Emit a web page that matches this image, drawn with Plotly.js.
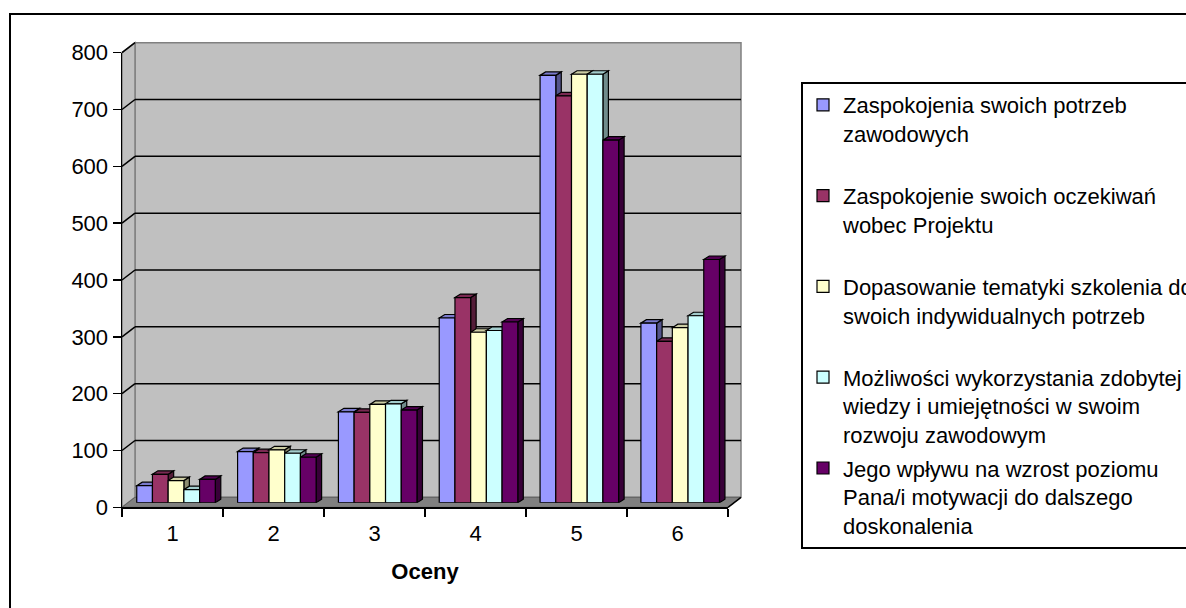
<!DOCTYPE html>
<html><head><meta charset="utf-8">
<script src="https://cdn.plot.ly/plotly-3.0.1.min.js"></script>
<style>
html,body{margin:0;padding:0;overflow:hidden;background:#fff;width:1186px;height:608px;}
#chart{position:absolute;left:0;top:0;width:1250px;height:620px;}
#frame{position:absolute;left:9px;top:13px;width:1400px;height:800px;border:2px solid #000;pointer-events:none;}
</style></head><body>
<div id="chart"></div><div id="frame"></div>
<script>
const categories = ['1', '2', '3', '4', '5', '6'];
const seriesNames = [
  'Zaspokojenia swoich potrzeb<br>zawodowych',
  'Zaspokojenie swoich oczekiwań<br>wobec Projektu',
  'Dopasowanie tematyki szkolenia do<br>swoich indywidualnych potrzeb',
  'Możliwości wykorzystania zdobytej<br>wiedzy i umiejętności w swoim<br>rozwoju zawodowym',
  'Jego wpływu na wzrost poziomu<br>Pana/i motywacji do dalszego<br>doskonalenia'
];
const potrzebyZawodowe = [30, 90, 160, 325, 752, 316];
const oczekiwaniaProjekt = [50, 88, 159, 361, 716, 284];
const dopasowanieTematyki = [39, 93, 173, 300, 754, 308];
const mozliwosciWiedzy = [23, 87, 174, 303, 754, 329];
const wplywMotywacja = [41, 80, 163, 318, 638, 428];
const seriesValues = [potrzebyZawodowe, oczekiwaniaProjekt, dopasowanieTematyki, mozliwosciWiedzy, wplywMotywacja];
const seriesColors = ['#9999FF', '#993366', '#FFFFCC', '#CCFFFF', '#660066'];
const yTicks = [0, 100, 200, 300, 400, 500, 600, 700, 800];

// geometry (pixels)
const W = 1250, H = 620;
const FX0 = 122, FX1 = 728, FY0 = 507.3, FYTOP = 52.7;   // front axes box
const DX = 13, DY = 10;                                   // wall depth
const S = (FY0 - FYTOP) / 800;                            // px per unit
const BARX0 = 125.6, BARX1 = 730.6, BARY0 = 502.7;        // bar front plane
const BDX = 5.5, BDY = 3.5;                               // bar depth
const BARGAP = 0.221;
const px = x => x / W;
const py = y => 1 - y / H;
const yF = v => FY0 - S * v;
const yB = v => FY0 - DY - S * v;

function shade(hex, f) {
  const n = parseInt(hex.slice(1), 16);
  const r = Math.round(((n >> 16) & 255) * f), g = Math.round(((n >> 8) & 255) * f), b = Math.round((n & 255) * f);
  return 'rgb(' + r + ',' + g + ',' + b + ')';
}
function ppath(pts) {
  return 'M' + pts.map(p => px(p[0]).toFixed(5) + ',' + py(p[1]).toFixed(5)).join('L') + 'Z';
}

const shapes = [];
// back wall
shapes.push({type:'path', xref:'paper', yref:'paper', layer:'below',
  path: ppath([[FX0+DX, yB(800)], [FX1+DX, yB(800)], [FX1+DX, yB(0)], [FX0+DX, yB(0)]]),
  fillcolor:'#c0c0c0', line:{color:'#808080', width:1.5}});
// left wall
shapes.push({type:'path', xref:'paper', yref:'paper', layer:'below',
  path: ppath([[FX0, yF(800)], [FX0+DX, yB(800)], [FX0+DX, yB(0)], [FX0, yF(0)]]),
  fillcolor:'#c0c0c0', line:{color:'#808080', width:1.5}});
// floor
shapes.push({type:'path', xref:'paper', yref:'paper', layer:'below',
  path: ppath([[FX0, yF(0)], [FX1, yF(0)], [FX1+DX, yB(0)], [FX0+DX, yB(0)]]),
  fillcolor:'#808080', line:{color:'#606060', width:1}});
shapes.push({type:'line', xref:'paper', yref:'paper', layer:'below',
  x0:px(FX1), y0:py(yF(0)), x1:px(FX1+DX), y1:py(yB(0)), line:{color:'#000', width:1.5}});
// gridlines on back wall + diagonals on left wall
yTicks.forEach(v => {
  if (v > 0 && v < 800) {
    shapes.push({type:'line', xref:'paper', yref:'paper', layer:'below',
      x0:px(FX0+DX), y0:py(yB(v)), x1:px(FX1+DX), y1:py(yB(v)), line:{color:'#000', width:1.5}});
  }
  if (v > 0) {
    shapes.push({type:'line', xref:'paper', yref:'paper', layer:'below',
      x0:px(FX0), y0:py(yF(v)), x1:px(FX0+DX), y1:py(yB(v)), line:{color:'#000', width:1.5}});
  }
});

// bar depth faces (data coordinates)
const catPx = (BARX1 - BARX0) / categories.length;
const ddx = BDX / catPx, ddy = BDY / S;
const groupW = 1 - BARGAP, bw = groupW / seriesValues.length;
seriesValues.forEach((vals, s) => {
  vals.forEach((v, c) => {
    const x0 = c - groupW / 2 + s * bw, x1 = x0 + bw;
    shapes.push({type:'path', xref:'x', yref:'y', layer:'below',
      path: 'M' + x1 + ',0L' + (x1+ddx) + ',' + ddy + 'L' + (x1+ddx) + ',' + (v+ddy) + 'L' + x1 + ',' + v + 'Z',
      fillcolor: shade(seriesColors[s], 0.55), line:{color:'#000', width:1.2}});
    shapes.push({type:'path', xref:'x', yref:'y', layer:'below',
      path: 'M' + x0 + ',' + v + 'L' + (x0+ddx) + ',' + (v+ddy) + 'L' + (x1+ddx) + ',' + (v+ddy) + 'L' + x1 + ',' + v + 'Z',
      fillcolor: shade(seriesColors[s], 0.8), line:{color:'#000', width:1.2}});
  });
});

function padLines(name) {
  const n = name.split('<br>').length;
  return n < 3 ? name + '<br>\u00a0' : name;
}

const traces = seriesValues.map((vals, s) => ({
  type:'bar', name: padLines(seriesNames[s]), legendgroup: 'g' + s,
  x: categories.map((c, i) => i), y: vals,
  marker:{color: seriesColors[s], line:{color:'#000', width:1.2}},
  hoverinfo:'y'
}));
// holder so the front axes subplot is drawn
traces.push({type:'scatter', mode:'markers', x:[], y:[], xaxis:'x2', yaxis:'y2', showlegend:false, hoverinfo:'skip'});

const FONT = 'Arial, "Liberation Sans", sans-serif';
const layout = {
  width: W, height: H,
  margin:{l:0, r:0, t:0, b:0, autoexpand:false},
  paper_bgcolor:'#fff', plot_bgcolor:'rgba(0,0,0,0)',
  font:{family: FONT, size:22, color:'#000'},
  barmode:'group', bargap: BARGAP, bargroupgap: 0,
  showlegend:true,
  legend:{x: px(801), y: py(82), xanchor:'left', yanchor:'top', bgcolor:'#fff',
    bordercolor:'#000', borderwidth:2, font:{size:22, family: FONT, color:'#000'},
    valign:'top', traceorder:'grouped', tracegroupgap:2, itemwidth:30},
  xaxis:{domain:[px(BARX0), px(BARX1)], range:[-0.5, 5.5], visible:false, fixedrange:true},
  yaxis:{domain:[py(BARY0), py(BARY0 - 800*S)], range:[0, 800], visible:false, fixedrange:true},
  xaxis2:{domain:[px(FX0), px(FX1)], anchor:'y2', range:[0, 6], tickmode:'array',
    tickvals: categories.map((c, i) => i + 0.5), ticktext: categories, ticks:'',
    showline:true, linecolor:'#000', linewidth:1.5, showgrid:false, zeroline:false,
    minor:{tickmode:'linear', tick0:0, dtick:1, ticks:'outside', ticklen:8, tickcolor:'#000', tickwidth:1.5, showgrid:false},
    tickfont:{size:22}, ticklabelstandoff: 6,
    title:{text:'<b>Oceny</b>', font:{size:22}, standoff: 18}, fixedrange:true},
  yaxis2:{domain:[py(FY0), py(FYTOP)], anchor:'x2', range:[0, 800], tickmode:'array', tickvals: yTicks,
    ticks:'outside', ticklen:8, tickwidth:1.5, tickcolor:'#000',
    showline:true, linecolor:'#000', linewidth:1.5, showgrid:false, zeroline:false,
    tickfont:{size:22}, fixedrange:true},
  shapes: shapes
};
Plotly.newPlot('chart', traces, layout, {displayModeBar:false, staticPlot:true});
</script>
</body></html>
